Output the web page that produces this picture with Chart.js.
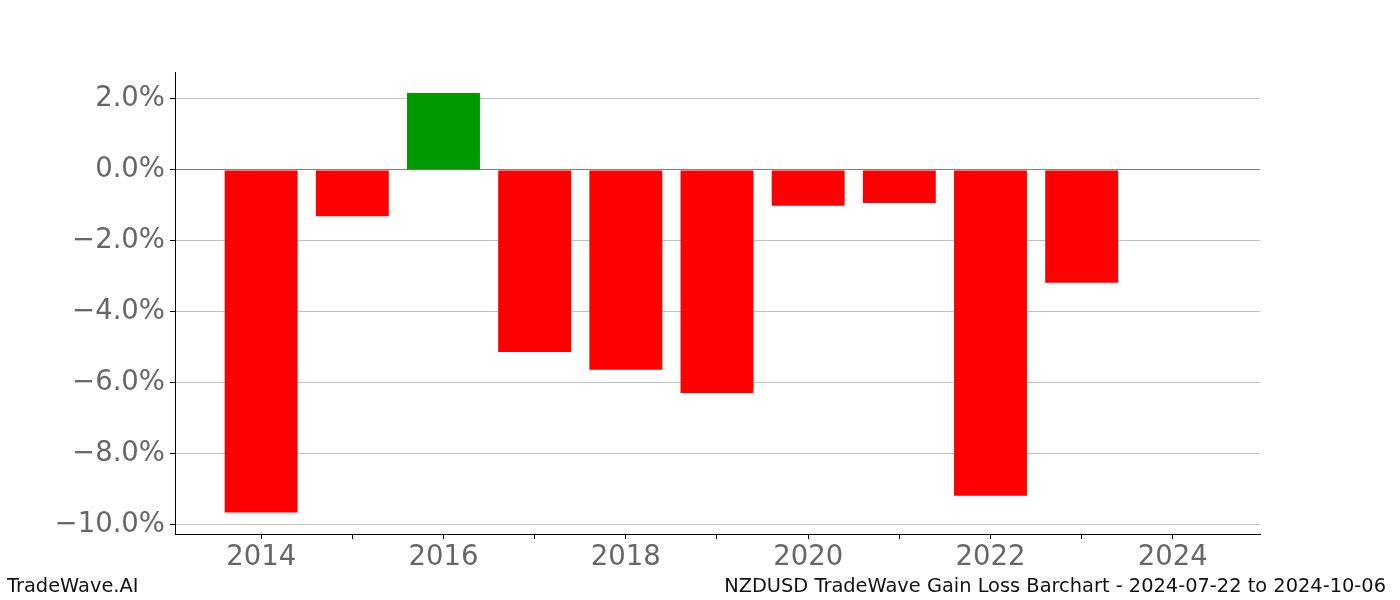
<!DOCTYPE html>
<html>
<head>
<meta charset="utf-8">
<script src="https://cdn.jsdelivr.net/npm/chart.js@4"></script>
<style>
  body { margin: 0; background: #fff; }
  #wrap { position: relative; width: 1400px; height: 600px; }
  .foot { position: absolute; top: 574px; font: 19.4px "DejaVu Sans", sans-serif; color: #111; white-space: nowrap; }
</style>
</head>
<body>
<div id="wrap">
  <canvas id="gainChart" width="1400" height="600"></canvas>
  <div class="foot" style="left:7px">TradeWave.AI</div>
  <div class="foot" style="right:14px">NZDUSD TradeWave Gain Loss Barchart - 2024-07-22 to 2024-10-06</div>
</div>
<script>
// ===== NZDUSD gain/loss per year (%) =====
const years = [2014, 2015, 2016, 2017, 2018, 2019, 2020, 2021, 2022, 2023];
const gains = [-9.65, -1.30, 2.17, -5.13, -5.63, -6.28, -1.01, -0.93, -9.18, -3.18];
const yTicks = [-10, -8, -6, -4, -2, 0, 2];
const xTicks = [2014, 2015, 2016, 2017, 2018, 2019, 2020, 2021, 2022, 2023, 2024];

const fmtPct = v => (v < 0 ? "\u2212" : "") + Math.abs(v).toFixed(1) + "%";

const ctx = document.getElementById("gainChart");
new Chart(ctx, {
  type: "bar",
  data: {
    datasets: [{
      data: years.map((y, i) => ({ x: y, y: gains[i] })),
      backgroundColor: gains.map(v => v >= 0 ? "#009900" : "#ff0000"),
      borderWidth: 0,
      barPercentage: 0.8,
      categoryPercentage: 1.0,
    }],
  },
  options: {
    responsive: false,
    animation: false,
    layout: { padding: { left: 0, top: 72, right: 140, bottom: 0 } },
    plugins: { legend: { display: false }, tooltip: { enabled: false } },
    scales: {
      x: {
        type: "linear",
        offset: false,
        min: 2013.055,
        max: 2024.956,
        afterBuildTicks: s => { s.ticks = xTicks.map(v => ({ value: v })); },
        afterFit: s => { s.height = 66; },
        ticks: {
          autoSkip: false,
          maxRotation: 0,
          padding: 2,
          color: "#666666",
          font: { family: "DejaVu Sans", size: 27.5 },
          callback: v => (v % 2 === 0 ? String(v) : ""),
        },
        grid: { offset: false, drawOnChartArea: false, drawTicks: true, tickLength: 5, tickColor: "#000" },
        border: { display: true, color: "#000", width: 1 },
      },
      y: {
        min: -10.254,
        max: 2.76,
        afterBuildTicks: s => { s.ticks = yTicks.map(v => ({ value: v })); },
        afterFit: s => { s.width = 175; },
        ticks: {
          padding: 5,
          color: "#666666",
          font: { family: "DejaVu Sans", size: 27.5 },
          callback: v => fmtPct(v),
        },
        grid: {
          color: c => (c.tick && c.tick.value === 0 ? "#808080" : "#c0c0c0"),
          lineWidth: 1,
          drawTicks: true,
          tickLength: 5,
          tickColor: "#000",
        },
        border: { display: true, color: "#000", width: 1 },
      },
    },
  },
});
</script>
</body>
</html>
